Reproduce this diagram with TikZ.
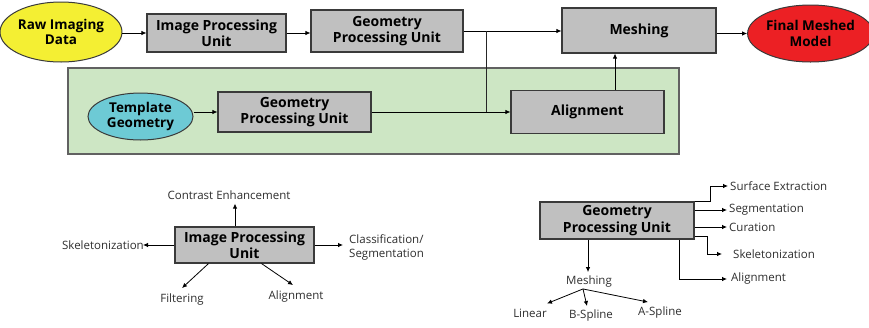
\documentclass[tikz,border=0pt]{standalone}
\usepackage{fontspec}
\setmainfont{Open Sans}
\usetikzlibrary{shapes.geometric,arrows.meta,calc}

\definecolor{boxgray}{HTML}{C0C0C0}
\definecolor{edgegray}{HTML}{3A3A3A}
\definecolor{rawyellow}{HTML}{F4EF33}
\definecolor{tmplcyan}{HTML}{6DCAD5}
\definecolor{finalred}{HTML}{EC2024}
\definecolor{panelgreen}{HTML}{CDE6C4}
\definecolor{labelgray}{HTML}{2E2E2E}

\tikzset{
  arr/.style={draw=black, line width=0.8pt, -{Latex[length=5pt,width=4.5pt]}},
  wire/.style={draw=black!85, line width=0.8pt},
  unit/.style={rectangle, draw=edgegray, line width=1.1pt, fill=boxgray,
    font=\fontsize{14}{16.5}\selectfont\bfseries, align=center, inner sep=0pt},
  blob/.style={ellipse, draw=edgegray, line width=1pt, inner sep=0pt,
    font=\fontsize{13.5}{15.5}\selectfont\bfseries, align=center},
  small/.style={font=\fontsize{11.5}{13.5}\selectfont, text=labelgray, inner sep=2pt},
}

\begin{document}
\begin{tikzpicture}[x=1pt, y=-1pt]
\useasboundingbox (0,0) rectangle (869,327);

% template panel
\node[draw=edgegray!80, line width=1.1pt, fill=panelgreen, rectangle,
      minimum width=611pt, minimum height=86pt, inner sep=0pt]
      (panel) at (373.5,111) {};

% main pipeline
\node[blob, fill=rawyellow, minimum width=112pt, minimum height=60pt] (raw) at (61,32) {Raw Imaging\\Data};
\node[unit, minimum width=139pt, minimum height=38pt] (ipu) at (216.5,33) {Image Processing\\Unit};
\node[unit, minimum width=152pt, minimum height=42pt] (gpu) at (387,31) {Geometry\\Processing Unit};
\node[unit, minimum width=154pt, minimum height=45pt] (mesh) at (639,30.5) {Meshing};
\node[blob, fill=finalred, minimum width=116pt, minimum height=57pt] (final) at (810.5,33.5) {Final Meshed\\Model};

\node[blob, fill=tmplcyan, minimum width=105pt, minimum height=47pt] (tmpl) at (140.5,116.5) {Template\\Geometry};
\node[unit, minimum width=153pt, minimum height=40pt] (gpub) at (294.5,112) {Geometry\\Processing Unit};
\node[unit, minimum width=153pt, minimum height=43pt] (align) at (587.5,112) {Alignment};

\coordinate (junc) at (486,0);
\coordinate (upx) at (615,0);

\draw[arr] (raw.east |- ipu.west) -- (ipu.west);
\draw[arr] (ipu.east) -- (ipu.east -| gpu.west);
\draw[arr] (gpu.east) -- (gpu.east -| mesh.west);
\draw[wire] (gpu.east -| junc) -- (align.west -| junc);
\draw[arr] (gpub.east) -- (align.west);
\draw[arr] (tmpl.east |- gpub.west) -- (gpub.west);
\draw[arr] (align.north -| upx) -- (mesh.south -| upx);
\draw[arr] (mesh.east |- final.west) -- (final.west);

% image processing unit detail
\node[unit, minimum width=139pt, minimum height=36pt] (ipd) at (244.5,245) {Image Processing\\Unit};
\node[small] (contrast) at (229,195) {Contrast Enhancement};
\node[small, anchor=east] (skel) at (146,245) {Skeletonization};
\node[small, anchor=west, align=left] (class) at (347,247.5) {Classification/\\Segmentation};
\node[small] (filt) at (182,300) {Filtering};
\node[small] (alab) at (296,297) {Alignment};

\coordinate (cx) at (235,0);
\draw[arr] (ipd.north -| cx) -- ([yshift=-2pt]contrast.south -| cx);
\draw[arr] (ipd.west) -- ([xshift=-3pt]skel.east);
\draw[arr] (ipd.east) -- ([xshift=-4pt]class.west |- ipd.east);
\draw[arr] ([xshift=-36pt]ipd.south) -- ([shift={(0pt,4pt)}]filt.north);
\draw[arr] ([xshift=17pt]ipd.south) -- ([shift={(-3pt,4pt)}]alab.north);

% geometry processing unit detail
\node[unit, minimum width=154pt, minimum height=37pt] (gpd) at (617,220.5) {Geometry\\Processing Unit};
\node[small, anchor=west] (surf) at (728,186) {Surface Extraction};
\node[small, anchor=west] (seg) at (727,210) {Segmentation};
\node[small, anchor=west] (cur) at (727,227) {Curation};
\node[small, anchor=west] (skelb) at (731,254) {Skeletonization};
\node[small, anchor=west] (alb) at (729,279) {Alignment};
\node[small] (meshl) at (589,282) {Meshing};
\node[small] (lin) at (530,313) {Linear};
\node[small] (bsp) at (591,316) {B-Spline};
\node[small] (asp) at (660,313) {A-Spline};

\coordinate (sx) at (710,0);
\coordinate (kx) at (707,0);
\coordinate (ax) at (679,0);
\coordinate (mx) at (588,0);
\draw[arr] (gpd.north east) -- (gpd.north east -| sx) |- (surf.west);
\draw[arr] (gpd.east |- seg.west) -- (seg.west);
\draw[arr] (gpd.east |- cur.west) -- (cur.west);
\draw[arr] ([yshift=3pt]gpd.south east) -- ([yshift=3pt]gpd.south east -| kx) |- ([xshift=-9pt]skelb.west);
\draw[arr] (gpd.south -| ax) |- ([xshift=-2pt]alb.west);
\draw[arr] (gpd.south -| mx) -- ([yshift=2pt]meshl.north -| mx);
\coordinate (fork) at ([xshift=-6pt,yshift=1pt]meshl.south);
\draw[arr] (fork) -- ([shift={(17pt,3pt)}]lin.north);
\draw[arr] (fork) -- ([shift={(-4pt,2pt)}]bsp.north);
\draw[arr] (fork) -- ([shift={(-12pt,3pt)}]asp.north);
\end{tikzpicture}
\end{document}
